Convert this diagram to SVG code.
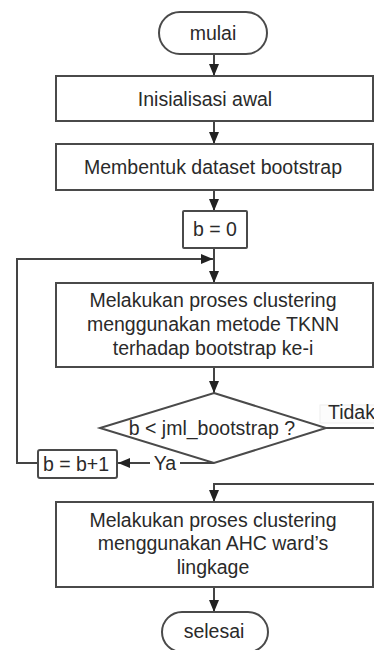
<svg xmlns="http://www.w3.org/2000/svg" width="374" height="650" viewBox="0 0 374 650">
<style>
.n{fill:#fff;stroke:#4a4a4a;stroke-width:2}
.t{font-family:"Liberation Sans",Arial,sans-serif;font-size:19.5px;fill:#2a2a2a;text-anchor:middle}
.c{fill:none;stroke:#444;stroke-width:2}
</style>
<defs>
<marker id="a" markerUnits="userSpaceOnUse" markerWidth="12" markerHeight="10" viewBox="0 0 12 10" refX="12" refY="5" orient="auto">
<path d="M0,0 L12,5 L0,10 Z" fill="#222"/>
</marker>
</defs>
<rect width="374" height="650" fill="#fff"/>
<g id="connectors">
<line class="c" x1="214" y1="54" x2="214" y2="76" marker-end="url(#a)"/>
<line class="c" x1="214" y1="121" x2="214" y2="144" marker-end="url(#a)"/>
<line class="c" x1="214" y1="190" x2="214" y2="211" marker-end="url(#a)"/>
<line class="c" x1="214" y1="248" x2="214" y2="283" marker-end="url(#a)"/>
<line class="c" x1="214" y1="367" x2="214" y2="393" marker-end="url(#a)"/>
<line class="c" x1="214" y1="587" x2="214" y2="612" marker-end="url(#a)"/>
<polyline class="c" points="214,463 118,463" marker-end="url(#a)"/>
<polyline class="c" points="38,463 17,463 17,259 213,259" marker-end="url(#a)"/>
<polyline class="c" points="326,428 374,428"/>
<polyline class="c" points="374,484 214,484 214,502" marker-end="url(#a)"/>
<rect x="150" y="453" width="30" height="20" fill="#fff"/>
<text class="t" x="165" y="470">Ya</text>
<rect x="320" y="405" width="56" height="18" fill="#fcfcfc" stroke="#eee" stroke-width="1"/>
<text class="t" x="328" y="419" style="text-anchor:start">Tidak</text>
</g>
<g id="mulai">
<rect class="n" x="159" y="12" width="108" height="42" rx="21"/>
<text class="t" x="213" y="40">mulai</text>
</g>
<g id="inisialisasi">
<rect class="n" x="56" y="76" width="317" height="45"/>
<text class="t" x="205" y="106">Inisialisasi awal</text>
</g>
<g id="membentuk">
<rect class="n" x="56" y="144" width="317" height="46"/>
<text class="t" x="213" y="174">Membentuk dataset bootstrap</text>
</g>
<g id="b0">
<rect class="n" x="183" y="211" width="64" height="37" rx="1"/>
<text class="t" x="215" y="236">b = 0</text>
</g>
<g id="tknn">
<rect class="n" x="56" y="283" width="317" height="84"/>
<text class="t" x="213" y="307">Melakukan proses clustering</text>
<text class="t" x="213" y="331">menggunakan metode TKNN</text>
<text class="t" x="213" y="355">terhadap bootstrap ke-i</text>
</g>
<g id="decision">
<polygon class="n" points="214,393 326,428 214,463 100,428"/>
<text class="t" x="212" y="435">b &lt; jml_bootstrap ?</text>
</g>
<g id="increment">
<rect class="n" x="38" y="450" width="79" height="28" rx="2"/>
<text class="t" x="76" y="471">b = b+1</text>
</g>
<g id="ahc">
<rect class="n" x="56" y="502" width="317" height="85"/>
<text class="t" x="213" y="527">Melakukan proses clustering</text>
<text class="t" x="213" y="550">menggunakan AHC ward’s</text>
<text class="t" x="213" y="574">lingkage</text>
</g>
<g id="selesai">
<rect class="n" x="162" y="612" width="106" height="40" rx="20"/>
<text class="t" x="214" y="638">selesai</text>
</g>
</svg>
